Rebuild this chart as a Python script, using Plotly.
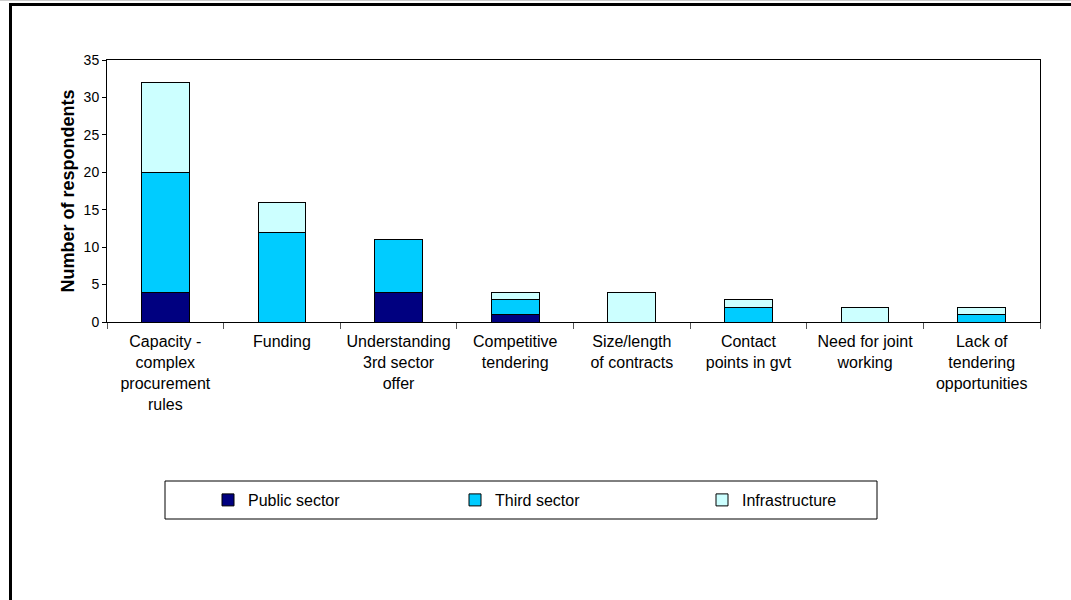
import plotly.graph_objects as go

categories = [
    "Capacity -<br>complex<br>procurement<br>rules",
    "Funding",
    "Understanding<br>3rd sector<br>offer",
    "Competitive<br>tendering",
    "Size/length<br>of contracts",
    "Contact<br>points in gvt",
    "Need for joint<br>working",
    "Lack of<br>tendering<br>opportunities",
]
public_sector = [4, 0, 4, 1, 0, 0, 0, 0]
third_sector = [16, 12, 7, 2, 0, 2, 0, 1]
infrastructure = [12, 4, 0, 1, 4, 1, 2, 1]

series = [
    ("Public sector", public_sector, "#000080"),
    ("Third sector", third_sector, "#00CCFF"),
    ("Infrastructure", infrastructure, "#CCFFFF"),
]

W, H = 1071, 600
ML, MR, MT, MB = 107, 31, 60, 278
PW, PH = W - ML - MR, H - MT - MB


def px(x):
    return (x - ML) / PW


def py(y):
    return (H - MB - y) / PH


fig = go.Figure()
for name, vals, color in series:
    fig.add_trace(go.Bar(
        x=categories, y=vals, name=name,
        marker=dict(color=color, line=dict(color="black", width=1)),
    ))

font = dict(family="Liberation Sans, Arial, sans-serif", color="black")

fig.update_layout(
    width=W, height=H,
    margin=dict(l=ML, r=MR, t=MT, b=MB),
    barmode="stack", bargap=0.59,
    plot_bgcolor="white", paper_bgcolor="white",
    font=dict(size=16, **font),
    showlegend=True,
    legend=dict(
        orientation="h", x=px(208), y=py(500), xanchor="left", yanchor="middle",
        entrywidth=202, entrywidthmode="pixels",
        font=dict(size=16, **font), bgcolor="rgba(0,0,0,0)",
        traceorder="normal",
    ),
    xaxis=dict(
        showline=True, linecolor="black", linewidth=1, mirror=True,
        ticks="outside", tickson="boundaries", ticklen=6, tickcolor="#555",
        tickfont=dict(size=16, **font), showgrid=False, ticklabelstandoff=5,
    ),
    yaxis=dict(
        range=[0, 35], dtick=5, showline=True, linecolor="black", linewidth=1,
        mirror=True, ticks="outside", ticklen=4, tickcolor="black",
        tickfont=dict(size=14, **font), showgrid=False, zeroline=False,
        title=dict(text="<b>Number of respondents</b>", font=dict(size=18, **font), standoff=4),
    ),
    shapes=[
        # legend box
        dict(type="rect", xref="paper", yref="paper",
             x0=px(165), x1=px(877), y0=py(481), y1=py(519),
             line=dict(color="black", width=1), fillcolor="rgba(0,0,0,0)"),
        # outer frame
        dict(type="line", xref="paper", yref="paper",
             x0=px(9), x1=px(1071), y0=py(4.5), y1=py(4.5),
             line=dict(color="black", width=3)),
        dict(type="line", xref="paper", yref="paper",
             x0=px(10.5), x1=px(10.5), y0=py(3), y1=py(600),
             line=dict(color="black", width=3)),
        dict(type="line", xref="paper", yref="paper",
             x0=px(0), x1=px(1071), y0=py(0.5), y1=py(0.5),
             line=dict(color="#cccccc", width=1)),
    ],
)

fig.write_html("out.html")
